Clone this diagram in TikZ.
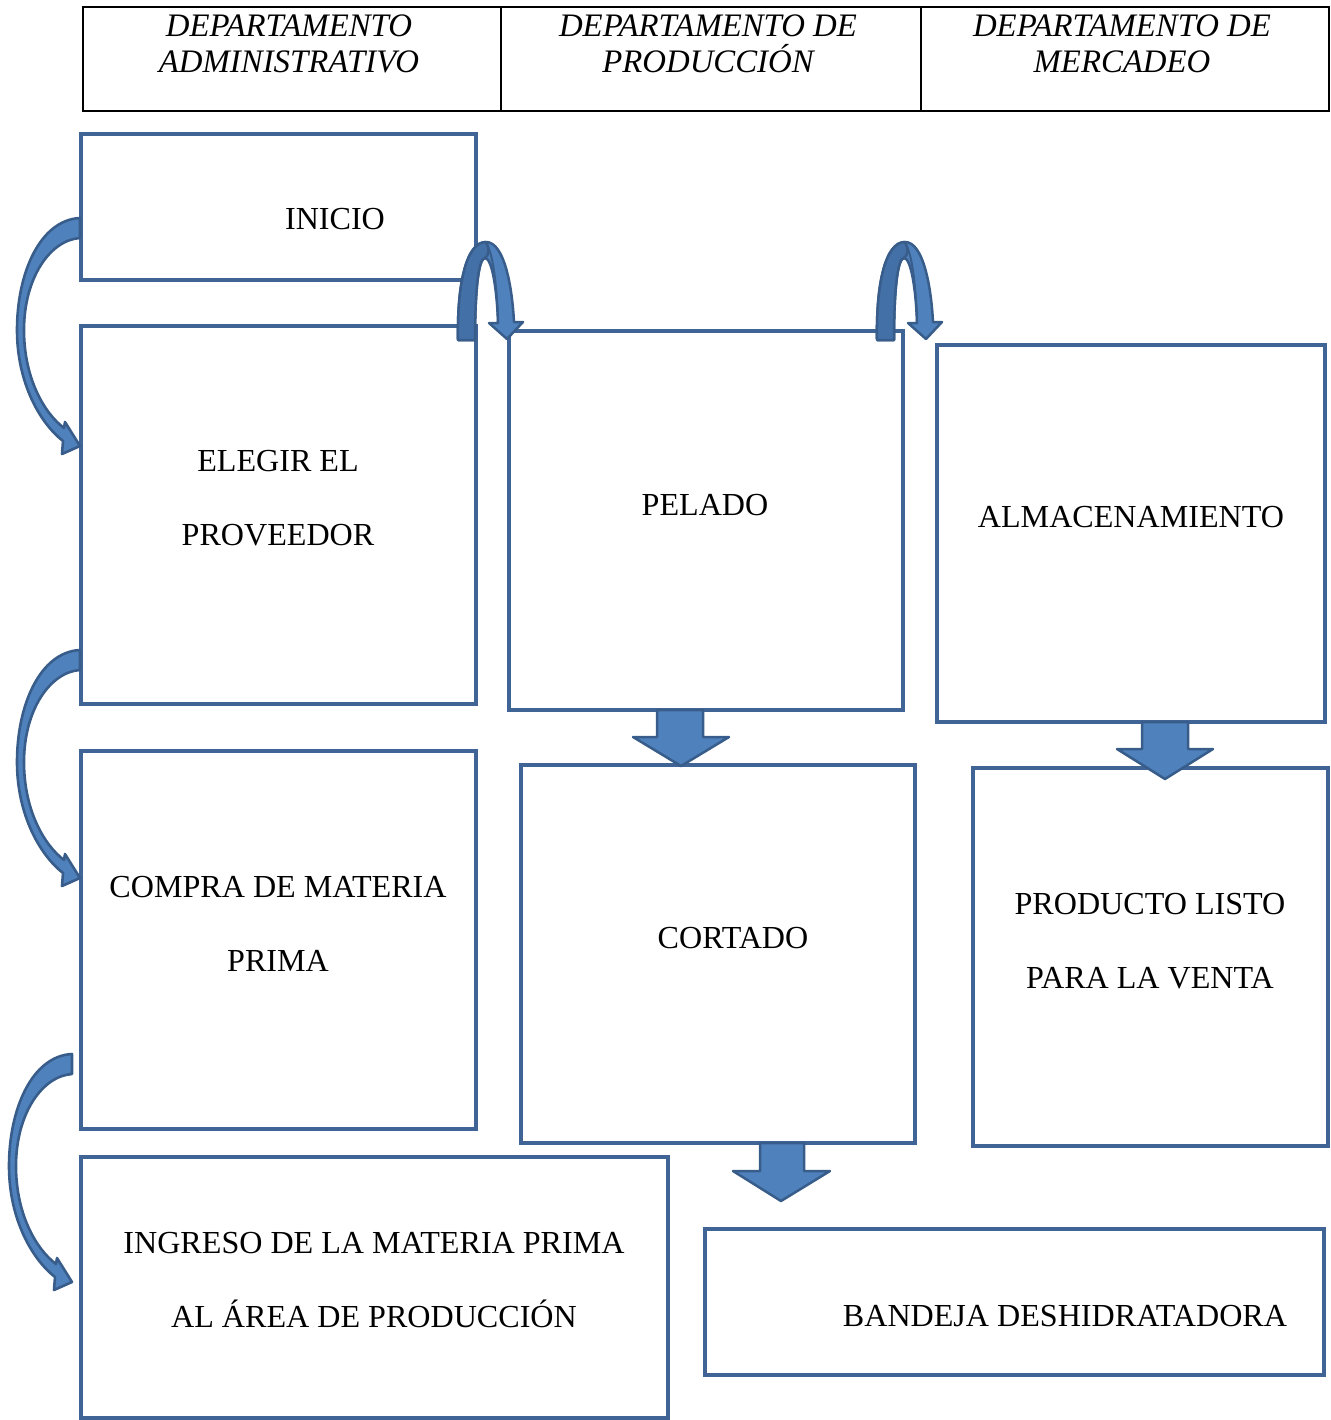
\documentclass[tikz,border=0pt]{standalone}
\usepackage{fontspec}
\setmainfont{Liberation Serif}
\begin{document}
\begin{tikzpicture}[x=1pt,y=-1pt,
  boxst/.style={draw=boxblue, line width=3.5pt, rectangle, inner sep=0pt},
  cell/.style={draw=black, line width=1.6pt, rectangle, inner sep=0pt, minimum height=104pt},
  txt/.style={inner sep=0pt, anchor=base, font=\fontsize{32.1}{38}\selectfont},
  htxt/.style={inner sep=0pt, anchor=base, font=\fontsize{32.8}{38}\selectfont\itshape},
  arrowfill/.style={fill=arrowlight, draw=arrowdark, line width=2.5pt, line join=round},
]
\definecolor{boxblue}{RGB}{64,100,150}
\definecolor{arrowlight}{RGB}{79,129,189}
\definecolor{arrowmid}{RGB}{68,112,168}
\definecolor{arrowdark}{RGB}{56,93,138}
\useasboundingbox (0,0) rectangle (1330,1420);

% header table
\node[cell, minimum width=418pt] (h1) at (292,59) {};
\node[cell, minimum width=420pt] (h2) at (711,59) {};
\node[cell, minimum width=408pt] (h3) at (1125,59) {};
\node[htxt] (h1a) at (289,37) {DEPARTAMENTO};
\node[htxt] (h1b) at (289,73) {ADMINISTRATIVO};
\node[htxt] (h2a) at (708,37) {DEPARTAMENTO DE};
\node[htxt] (h2b) at (708,73) {PRODUCCIÓN};
\node[htxt] (h3a) at (1122,37) {DEPARTAMENTO DE};
\node[htxt] (h3b) at (1122,73) {MERCADEO};

% boxes
\node[boxst, minimum width=395pt, minimum height=146pt] (inicio) at (278.5,207) {};
\node[boxst, minimum width=395pt, minimum height=378pt] (elegir) at (278.5,515) {};
\node[boxst, minimum width=395pt, minimum height=378pt] (compra) at (278.5,940) {};
\node[boxst, minimum width=587pt, minimum height=261pt] (ingreso) at (374.5,1287.5) {};
\node[boxst, minimum width=394pt, minimum height=379pt] (pelado) at (706,520.5) {};
\node[boxst, minimum width=394pt, minimum height=378pt] (cortado) at (718,954) {};
\node[boxst, minimum width=388pt, minimum height=377pt] (almac) at (1131,533.5) {};
\node[boxst, minimum width=355pt, minimum height=378pt] (producto) at (1150.5,957) {};
\node[boxst, minimum width=619pt, minimum height=146pt] (bandeja) at (1014.5,1302) {};

% texts
\node[txt] (t1) at (335,230) {INICIO};
\node[txt] (t2a) at (278,471) {ELEGIR EL};
\node[txt] (t2b) at (278,545) {PROVEEDOR};
\node[txt] (t3a) at (278,897) {COMPRA DE MATERIA};
\node[txt] (t3b) at (278,971) {PRIMA};
\node[txt] (t4a) at (374,1253) {INGRESO DE LA MATERIA PRIMA};
\node[txt] (t4b) at (374,1327) {AL ÁREA DE PRODUCCIÓN};
\node[txt] (t5) at (705,515) {PELADO};
\node[txt] (t6) at (733,948) {CORTADO};
\node[txt] (t7) at (1131,527) {ALMACENAMIENTO};
\node[txt] (t8a) at (1150,914) {PRODUCTO LISTO};
\node[txt] (t8b) at (1150,988) {PARA LA VENTA};
\node[txt] (t9) at (1065,1326) {BANDEJA DESHIDRATADORA};

% curved left arrows
\tikzset{carrow/.pic={
  \path[arrowfill, line width=2.6pt] (0,0) .. controls (-40,2) and (-63,55) .. (-63,112)
     .. controls (-63,165) and (-40,205) .. (-17,223)
     -- (-18,236) -- (0,228) -- (-15,204) -- (-16,210)
     .. controls (-36,195) and (-56,160) .. (-56,112)
     .. controls (-56,60) and (-30,22) .. (0,20) -- cycle;
}}
\pic at (80,218) {carrow};
\pic at (80,650) {carrow};
\pic at (72,1054) {carrow};

% U-shaped arrows
\tikzset{uarrow/.pic={
  \path[arrowfill] (0,0) .. controls (-1,-55) and (8,-98) .. (28,-98)
     .. controls (46,-98) and (54,-55) .. (56,-18)
     -- (65,-18) -- (49,-1) -- (31,-17) -- (40,-17)
     .. controls (39,-50) and (34,-82) .. (27,-82)
     .. controls (20,-82) and (17,-45) .. (17,0) -- cycle;
  \path[fill=arrowmid, draw=arrowdark, line width=2.5pt, line join=round]
     (0,0) .. controls (-1,-55) and (8,-98) .. (28,-98)
     .. controls (32,-92) and (31,-84) .. (27,-82)
     .. controls (20,-82) and (17,-45) .. (17,0) -- cycle;
  \draw[arrowdark, line width=2pt] (28,-97) .. controls (36,-85) and (39,-50) .. (40,-17);
}}
\pic at (458,340) {uarrow};
\pic at (877,340) {uarrow};

% block down arrows
\path[arrowfill] (657,710) -- (703,710) -- (703,737) -- (729,737) -- (681,766) -- (633,737) -- (657,737) -- cycle;
\path[arrowfill] (1142,722) -- (1188,722) -- (1188,749) -- (1213,749) -- (1165,779) -- (1117,749) -- (1142,749) -- cycle;
\path[arrowfill] (760,1143) -- (804,1143) -- (804,1171) -- (830,1171) -- (781,1201) -- (733,1171) -- (760,1171) -- cycle;
\end{tikzpicture}
\end{document}
